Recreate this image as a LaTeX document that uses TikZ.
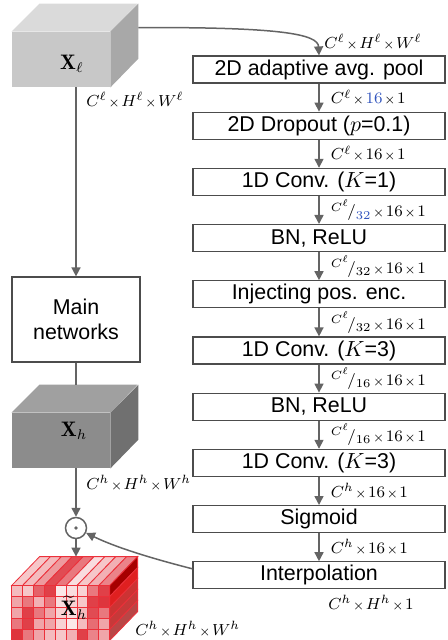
\documentclass[tikz,border=0pt]{standalone}
\usepackage{fontspec}
\newfontfamily\boxfont{Liberation Sans}
\usepackage{tikz}
\usetikzlibrary{positioning}
\usetikzlibrary{calc,arrows.meta}
\usepackage{xcolor}
\definecolor{cblue}{RGB}{50,85,190}
\definecolor{linegray}{RGB}{100,100,100}
\definecolor{cellred}{RGB}{218,30,40}
\definecolor{cellline}{RGB}{236,48,58}
\definecolor{cubeA}{RGB}{200,200,200}
\definecolor{cubeAtop}{RGB}{218,218,218}
\definecolor{cubeAside}{RGB}{168,168,168}
\definecolor{cubeB}{RGB}{140,140,140}
\definecolor{cubeBtop}{RGB}{160,160,160}
\definecolor{cubeBside}{RGB}{112,112,112}
\newcommand{\tmul}{\mkern1.5mu{\scriptstyle\times}\mkern1.5mu}
\newcommand{\cubefaces}[3]{%
  \fill[#2] (#1.north west) -- ++(28,-28) -- ++(98,0) -- (#1.north east) -- cycle;
  \fill[#3] (#1.north east) -- ++(28,-28) -- ++(0,55) -- (#1.south east) -- cycle;}

\begin{document}
\begin{tikzpicture}[x=0.5pt, y=-0.5pt, node distance=14pt,
  >={Triangle[length=4.5pt,width=4.5pt]},
  every node/.style={inner sep=1pt},
  layer/.style={draw=black!70, line width=0.6pt, minimum width=126pt,
    minimum height=13.5pt, font=\boxfont\fontsize{10.7}{12.5}\selectfont},
  arr/.style={->, draw=linegray, line width=0.75pt},
  dims/.style={font=\fontsize{8}{9}\selectfont},
  front/.style={minimum width=49pt, minimum height=27.5pt, inner sep=0pt},
  cubelbl/.style={font=\fontsize{10.5}{12}\selectfont}
  ]
  \useasboundingbox (0,0) rectangle (447,640);

  % attention branch
  \node[layer] (pool) at (319,69.5) {2D adaptive avg. pool};
  \node[layer, below=of pool] (drop) {2D Dropout ($p$=0.1)};
  \node[layer, below=of drop] (conv1) {1D Conv. ($K$=1)};
  \node[layer, below=of conv1] (bn1) {BN, ReLU};
  \node[layer, below=of bn1] (pos) {Injecting pos. enc.};
  \node[layer, below=of pos] (conv2) {1D Conv. ($K$=3)};
  \node[layer, below=of conv2] (bn2) {BN, ReLU};
  \node[layer, below=of bn2] (conv3) {1D Conv. ($K$=3)};
  \node[layer, below=of conv3] (sig) {Sigmoid};
  \node[layer, below=of sig] (interp) {Interpolation};

  \draw[arr] (pool) -- (drop) node[midway, right, dims, xshift=4.5pt]
    {$C^{\ell}\tmul\textcolor{cblue}{16}\tmul 1$};
  \draw[arr] (drop) -- (conv1) node[midway, right, dims, xshift=4.5pt]
    {$C^{\ell}\tmul 16\tmul 1$};
  \draw[arr] (conv1) -- (bn1) node[midway, right, dims, xshift=4.5pt]
    {$^{C^{\ell}}\!/_{\textcolor{cblue}{32}}\tmul 16\tmul 1$};
  \draw[arr] (bn1) -- (pos) node[midway, right, dims, xshift=4.5pt]
    {$^{C^{\ell}}\!/_{32}\tmul 16\tmul 1$};
  \draw[arr] (pos) -- (conv2) node[midway, right, dims, xshift=4.5pt]
    {$^{C^{\ell}}\!/_{32}\tmul 16\tmul 1$};
  \draw[arr] (conv2) -- (bn2) node[midway, right, dims, xshift=4.5pt]
    {$^{C^{\ell}}\!/_{16}\tmul 16\tmul 1$};
  \draw[arr] (bn2) -- (conv3) node[midway, right, dims, xshift=4.5pt]
    {$^{C^{\ell}}\!/_{16}\tmul 16\tmul 1$};
  \draw[arr] (conv3) -- (sig) node[midway, right, dims, xshift=4.5pt]
    {$C^{h}\tmul 16\tmul 1$};
  \draw[arr] (sig) -- (interp) node[midway, right, dims, xshift=4.5pt]
    {$C^{h}\tmul 16\tmul 1$};
  \node[dims, anchor=west] (dimpool) at ($(pool.north)+(3,-13)$)
    {$C^{\ell}\tmul H^{\ell}\tmul W^{\ell}$};
  \node[dims, anchor=west] (diminterp) at ($(interp.south)+(7,14)$)
    {$C^{h}\tmul H^{h}\tmul 1$};

  % main path
  \node[front, fill=cubeA] (xl) at (61,59.5) {};
  \cubefaces{xl}{cubeAtop}{cubeAside}
  \node[cubelbl] (xllbl) at ([xshift=5.5pt,yshift=-2pt]xl.center) {$\mathbf{X}_{\ell}$};
  \node[dims, anchor=west] (dimxl) at (84,100) {$C^{\ell}\tmul H^{\ell}\tmul W^{\ell}$};

  \node[layer, minimum width=64pt, minimum height=42.5pt, align=center]
    (main) at (76,319.5) {Main\\networks};
  \draw[arr] (main |- xl.south) -- (main);

  \node[front, fill=cubeB] (xh) at (61,440.5) {};
  \cubefaces{xh}{cubeBtop}{cubeBside}
  \coordinate (xhtop) at ([yshift=14pt]xh.north);
  \draw[draw=linegray, line width=0.75pt] (main) -- (main |- xhtop);
  \node[cubelbl] (xhlbl) at ([xshift=6.5pt,yshift=5pt]xh.center) {$\mathbf{X}_{h}$};
  \node[dims, anchor=west] (dimxh) at (84,483) {$C^{h}\tmul H^{h}\tmul W^{h}$};

  \node[circle, draw=linegray, line width=0.75pt, minimum size=10.5pt, inner sep=0pt]
    (prod) at (76,528) {};
  \fill[linegray] (prod) circle (0.9pt);
  \draw[arr] (main |- xh.south) -- (prod);

  % recalibrated features
  \node[front] (xt) at (61,613.5) {};
  \coordinate (xttop) at ([yshift=14.5pt]xt.north);
  \draw[arr] (prod) -- (main |- xttop);
  \begin{scope}[shift={(xt.north west)}, draw=cellline, line width=0.4pt]
    \foreach \v [count=\c from 0] in {25,30,45,80,60,15,25,35,55}
      \filldraw[fill=cellred!\v] (\c*10.89,0) -- ++(10.89,0) -- ++(28,-29) -- ++(-10.89,0) -- cycle;
    \foreach \col [count=\r from 0] in {red!65!black,red!75!gray,red!60!gray,red!55!gray,red!45!gray}
      \filldraw[fill=\col] (98,\r*11) -- ++(28,-29) -- ++(0,11) -- ++(-28,29) -- cycle;
    \foreach \r/\vals in {0/{30,25,70,85,10,15,20,60,85},1/{40,60,35,60,15,20,25,85,90},
        2/{40,85,60,40,20,15,30,80,60},3/{60,85,40,40,20,10,30,65,40},4/{90,60,40,30,25,35,85,55,40}}
      \foreach \v [count=\c from 0] in \vals
        \filldraw[fill=cellred!\v] (\c*10.89,\r*11) rectangle ++(10.89,11);
  \end{scope}
  \node[cubelbl] (xtlbl) at ([xshift=6.5pt,yshift=3pt]xt.center) {$\widetilde{\mathbf{X}}_{h}$};
  \node[dims, anchor=west] (dimxt) at (133,629) {$C^{h}\tmul H^{h}\tmul W^{h}$};

  % branch connectors
  \draw[arr] ($(xl.north east)+(28,-4)$) .. controls (280,27) and (318,34) .. (pool.north);
  \draw[arr] ([yshift=3.25pt]interp.west) .. controls (150,558) and (115,547) .. (prod);
\end{tikzpicture}
\end{document}
